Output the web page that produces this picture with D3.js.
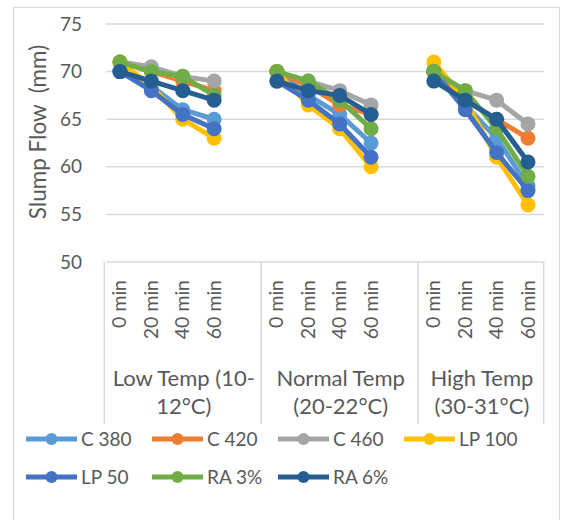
<!DOCTYPE html>
<html>
<head>
<meta charset="utf-8">
<script src="https://cdn.jsdelivr.net/npm/d3@7"></script>
<style>
  html, body { margin: 0; padding: 0; background: #fff; }
  svg { display: block; }
  text { font-family: Lato, "Open Sans", sans-serif; fill: #595959; white-space: pre; }
</style>
</head>
<body>
<svg id="chart" width="564" height="520"></svg>
<script>
// Slump flow over time for each mix, at three curing temperatures
const groupLabels = [
  ["Low Temp (10-", "12°C)"],
  ["Normal Temp", "(20-22°C)"],
  ["High Temp", "(30-31°C)"]
];
const timeLabels = ["0 min", "20 min", "40 min", "60 min"];
const yTicks = [50, 55, 60, 65, 70, 75];

const seriesNames = ["C 380", "C 420", "C 460", "LP 100", "LP 50", "RA 3%", "RA 6%"];
const seriesColors = ["#5B9BD5", "#ED7D31", "#A5A5A5", "#FFC000", "#4472C4", "#70AD47", "#255E91"];

// values per series: [low temp 0..60 min, normal temp 0..60 min, high temp 0..60 min]
const c380  = [70, 68.5, 66, 65,    70, 67.5, 65.5, 62.5, 70, 66.5, 63, 58];
const c420  = [71, 70, 69, 68,      70, 68.5, 66.5, 65.5, 70, 67, 65, 63];
const c460  = [71, 70.5, 69.5, 69,  70, 69, 68, 66.5,     70, 68, 67, 64.5];
const lp100 = [71, 68.5, 65, 63,    70, 66.5, 64, 60,     71, 67, 61, 56];
const lp50  = [70, 68, 65.5, 64,    69, 67, 64.5, 61,     70, 66, 61.5, 57.5];
const ra3   = [71, 70, 69.5, 67.5,  70, 69, 67, 64,       70, 68, 64, 59];
const ra6   = [70, 69, 68, 67,      69, 68, 67.5, 65.5,   69, 67, 65, 60.5];
const seriesValues = [c380, c420, c460, lp100, lp50, ra3, ra6];

const svg = d3.select("#chart");

// chart frame
svg.append("rect")
  .attr("x", 13.5).attr("y", 7.5)
  .attr("width", 546).attr("height", 530)
  .attr("fill", "#fff").attr("stroke", "#d9d9d9").attr("stroke-width", 1);

// category slots: four times per group, with an empty slot between groups
const slots = [];
groupLabels.forEach((g, gi) => {
  timeLabels.forEach(t => slots.push({ key: gi + "|" + t, group: gi, time: t }));
  if (gi < groupLabels.length - 1) slots.push({ key: gi + "|gap", group: gi, time: null });
});

const plotLeft = 104.3, plotRight = 543.7, plotTop = 24, plotBottom = 262;
const x = d3.scaleBand().domain(slots.map(s => s.key)).range([plotLeft, plotRight]).padding(0);
const y = d3.scaleLinear().domain([50, 75]).range([plotBottom, plotTop]);

// gridlines
svg.append("g").selectAll("line").data(yTicks).join("line")
  .attr("x1", plotLeft + 2).attr("x2", plotRight)
  .attr("y1", d => y(d)).attr("y2", d => y(d))
  .attr("stroke", "#d9d9d9").attr("stroke-width", 1.5);

// y tick labels
svg.append("g").selectAll("text").data(yTicks).join("text")
  .attr("x", 82).attr("y", d => y(d))
  .attr("dy", "0.35em")
  .attr("text-anchor", "end")
  .attr("font-size", 19)
  .text(d => d);

// y axis title
svg.append("text")
  .attr("transform", "translate(46,132) rotate(-90)")
  .attr("text-anchor", "middle")
  .attr("font-size", 22.5)
  .text("Slump Flow  (mm)");

// group separators on the category axis
const axisBottom = 424;
const boundaries = [plotLeft];
groupLabels.forEach((g, gi) => {
  const inGroup = slots.filter(s => s.group === gi);
  boundaries.push(x(inGroup[inGroup.length - 1].key) + x.bandwidth());
});
svg.append("g").selectAll("line").data(boundaries).join("line")
  .attr("x1", d => d).attr("x2", d => d)
  .attr("y1", plotBottom).attr("y2", axisBottom)
  .attr("stroke", "#d9d9d9").attr("stroke-width", 1.5);

// time tick labels (rotated)
svg.append("g").selectAll("text").data(slots.filter(s => s.time)).join("text")
  .attr("transform", d => `translate(${x(d.key) + x.bandwidth() / 2 + 6.5},280) rotate(-90)`)
  .attr("text-anchor", "end")
  .attr("font-size", 19.5)
  .text(d => d.time);

// group labels
groupLabels.forEach((lines, gi) => {
  const cx = (boundaries[gi] + boundaries[gi + 1]) / 2 + 1;
  const t = svg.append("text")
    .attr("x", cx).attr("y", 386)
    .attr("text-anchor", "middle")
    .attr("font-size", 22);
  lines.forEach((ln, li) => {
    t.append("tspan").attr("x", cx).attr("dy", li === 0 ? 0 : 28).text(ln);
  });
});

// series: lines broken at group gaps, with circle markers
const timeSlots = slots.filter(s => s.time);
const line = d3.line()
  .defined(d => d.v != null)
  .x(d => x(d.key) + x.bandwidth() / 2)
  .y(d => y(d.v));

seriesValues.forEach((vals, si) => {
  const pts = slots.map(s => {
    const idx = timeSlots.indexOf(s);
    return { key: s.key, v: idx >= 0 ? vals[idx] : null };
  });
  const g = svg.append("g");
  g.append("path")
    .datum(pts)
    .attr("d", line)
    .attr("fill", "none")
    .attr("stroke", seriesColors[si])
    .attr("stroke-width", 5)
    .attr("stroke-linejoin", "round");
  g.selectAll("circle").data(pts.filter(d => d.v != null)).join("circle")
    .attr("cx", d => x(d.key) + x.bandwidth() / 2)
    .attr("cy", d => y(d.v))
    .attr("r", 7.5)
    .attr("fill", seriesColors[si]);
});

// legend
const legendCols = [26, 152, 278, 404];
const legendRows = [439, 477];
seriesNames.forEach((name, i) => {
  const lx = legendCols[i % 4], ly = legendRows[Math.floor(i / 4)];
  const g = svg.append("g").attr("transform", `translate(${lx},${ly})`);
  g.append("line").attr("x1", 0).attr("x2", 51).attr("y1", 0).attr("y2", 0)
    .attr("stroke", seriesColors[i]).attr("stroke-width", 5);
  g.append("circle").attr("cx", 25.5).attr("cy", 0).attr("r", 6).attr("fill", seriesColors[i]);
  g.append("text").attr("x", 55).attr("y", 0).attr("dy", "0.35em")
    .attr("font-size", 19).text(name);
});
</script>
</body>
</html>
